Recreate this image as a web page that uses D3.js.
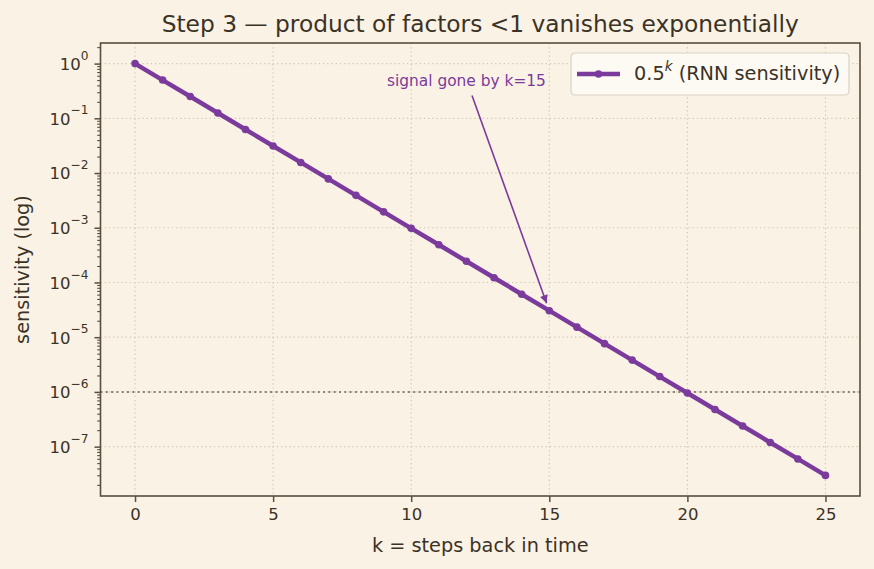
<!DOCTYPE html>
<html>
<head>
<meta charset="utf-8">
<script src="https://cdn.jsdelivr.net/npm/d3@7"></script>
<style>
  body { margin: 0; background: #faf2e4; }
  text { font-family: "DejaVu Sans", sans-serif; }
</style>
</head>
<body>
<div id="chart"></div>
<script>
// data
var steps = d3.range(0, 26);                 // k = 0..25
var sensitivity = steps.map(function (k) { return Math.pow(0.5, k); });
var xTicks = [0, 5, 10, 15, 20, 25];
var yDecades = [0, -1, -2, -3, -4, -5, -6, -7];
var threshold = 1e-6;
var note = { text: "signal gone by k=15", xText: 12, yText: 0.5, k: 15 };

var width = 874, height = 569;
var margin = { top: 43, right: 14, bottom: 73, left: 100.5 };
var purple = "#7b3b9c",
  ink = "#3b3226",
  spine = "#5a4e3e",
  gridColor = "#cfc5b2";

var svg = d3.select("#chart").append("svg")
  .attr("width", width)
  .attr("height", height);

svg.append("rect").attr("width", width).attr("height", height).attr("fill", "#faf2e4");

var x = d3.scaleLinear()
  .domain([-1.25, 26.25])
  .range([margin.left, width - margin.right]);

var lo = Math.log10(d3.min(sensitivity)), hi = Math.log10(d3.max(sensitivity));
var pad = (hi - lo) * 0.05;
var y = d3.scaleLog()
  .domain([Math.pow(10, lo - pad), Math.pow(10, hi + pad)])
  .range([height - margin.bottom, margin.top]);

var g = svg.append("g");

// grid
g.selectAll("line.xgrid").data(xTicks).enter().append("line")
  .attr("x1", d => x(d)).attr("x2", d => x(d))
  .attr("y1", margin.top).attr("y2", height - margin.bottom)
  .attr("stroke", gridColor).attr("stroke-width", 1.2).attr("stroke-dasharray", "1.2,3");

g.selectAll("line.ygrid").data(yDecades).enter().append("line")
  .attr("x1", margin.left).attr("x2", width - margin.right)
  .attr("y1", d => y(Math.pow(10, d))).attr("y2", d => y(Math.pow(10, d)))
  .attr("stroke", gridColor).attr("stroke-width", 1.2).attr("stroke-dasharray", "1.2,3");

// threshold line
g.append("line")
  .attr("x1", margin.left).attr("x2", width - margin.right)
  .attr("y1", y(threshold)).attr("y2", y(threshold))
  .attr("stroke", "#8c8272").attr("stroke-width", 2).attr("stroke-dasharray", "2,3.3");

// series
var line = d3.line().x((d, i) => x(steps[i])).y(d => y(d));
g.append("path").datum(sensitivity)
  .attr("d", line)
  .attr("fill", "none")
  .attr("stroke", purple)
  .attr("stroke-width", 4.5)
  .attr("stroke-linejoin", "round");

g.selectAll("circle.pt").data(sensitivity).enter().append("circle")
  .attr("cx", (d, i) => x(steps[i]))
  .attr("cy", d => y(d))
  .attr("r", 3.8)
  .attr("fill", purple);

// annotation
var tx = x(note.xText), ty = y(note.yText);
svg.append("text")
  .attr("x", tx).attr("y", ty + 5.5)
  .attr("text-anchor", "middle")
  .style("font-size", "15.4px")
  .attr("fill", purple)
  .text(note.text);

var px = x(note.k), py = y(Math.pow(0.5, note.k));
var dx = px - tx, dy = py - ty, len = Math.sqrt(dx * dx + dy * dy);
var sy = ty + 15.5, sx = tx + dx * (15.5 / dy);
var ex = px - dx / len * 8, ey = py - dy / len * 8;
svg.append("defs").append("marker")
  .attr("id", "head")
  .attr("viewBox", "0 0 10 10")
  .attr("refX", 10).attr("refY", 5)
  .attr("markerWidth", 10).attr("markerHeight", 8)
  .attr("markerUnits", "userSpaceOnUse")
  .attr("orient", "auto")
  .append("path").attr("d", "M0,0 L10,5 L0,10 z").attr("fill", purple);
svg.append("line")
  .attr("x1", sx).attr("y1", sy).attr("x2", ex).attr("y2", ey)
  .attr("stroke", purple).attr("stroke-width", 1.6)
  .attr("marker-end", "url(#head)");

// axes
var xAxis = svg.append("g")
  .attr("transform", "translate(0," + (height - margin.bottom) + ")")
  .call(d3.axisBottom(x).tickValues(xTicks).tickSize(6).tickPadding(6));
xAxis.select(".domain").remove();
xAxis.selectAll("line").attr("stroke", spine).attr("stroke-width", 1.5);
xAxis.selectAll("text").style("font-size", "16.5px").attr("fill", ink).style("font-family", "DejaVu Sans");

var minor = [];
yDecades.concat([-8]).forEach(function (e) {
  d3.range(2, 10).forEach(function (m) {
    var v = m * Math.pow(10, e);
    if (v >= y.domain()[0] && v <= y.domain()[1]) minor.push(v);
  });
});
var yMinor = svg.append("g")
  .attr("transform", "translate(" + margin.left + ",0)")
  .call(d3.axisLeft(y).tickValues(minor).tickSize(3.3).tickFormat(""));
yMinor.select(".domain").remove();
yMinor.selectAll("line").attr("stroke", spine).attr("stroke-width", 1.1);

var yAxis = svg.append("g")
  .attr("transform", "translate(" + margin.left + ",0)")
  .call(d3.axisLeft(y).tickValues(yDecades.map(e => Math.pow(10, e))).tickSize(6).tickFormat(""));
yAxis.select(".domain").remove();
yAxis.selectAll("line").attr("stroke", spine).attr("stroke-width", 1.5);
yAxis.selectAll(".tick").each(function (d) {
  var e = Math.round(Math.log10(d));
  var t = d3.select(this).append("text")
    .attr("x", -12).attr("dy", "0.36em")
    .attr("text-anchor", "end")
    .attr("fill", ink).style("font-size", "16.5px");
  t.append("tspan").text("10");
  t.append("tspan").style("font-size", "12.2px").attr("dy", "-0.85em")
    .text(e === 0 ? "0" : "\u2212" + Math.abs(e));
});

// spines
svg.append("rect")
  .attr("x", margin.left).attr("y", margin.top)
  .attr("width", width - margin.right - margin.left)
  .attr("height", height - margin.bottom - margin.top)
  .attr("fill", "none").attr("stroke", spine).attr("stroke-width", 1.6);

// labels
svg.append("text")
  .attr("x", (margin.left + width - margin.right) / 2).attr("y", 32)
  .attr("text-anchor", "middle").style("font-size", "23.3px").attr("fill", ink)
  .text("Step 3 \u2014 product of factors <1 vanishes exponentially");

svg.append("text")
  .attr("x", (margin.left + width - margin.right) / 2).attr("y", 552)
  .attr("text-anchor", "middle").style("font-size", "19.3px").attr("fill", ink)
  .text("k = steps back in time");

svg.append("text")
  .attr("transform", "translate(29," + ((margin.top + height - margin.bottom) / 2) + ") rotate(-90)")
  .attr("text-anchor", "middle").style("font-size", "19.3px").attr("fill", ink)
  .text("sensitivity (log)");

// legend
var lg = svg.append("g").attr("transform", "translate(571,53)");
lg.append("rect").attr("width", 278).attr("height", 42).attr("rx", 4)
  .attr("fill", "#fdfaf4").attr("stroke", "#d8d2c6").attr("stroke-width", 1.2);
lg.append("line").attr("x1", 6).attr("x2", 49).attr("y1", 21).attr("y2", 21)
  .attr("stroke", purple).attr("stroke-width", 4.5);
lg.append("circle").attr("cx", 27.5).attr("cy", 21).attr("r", 3.8).attr("fill", purple);
var lt = lg.append("text").attr("x", 63).attr("y", 26.5).style("font-size", "19.3px").attr("fill", ink);
lt.append("tspan").text("0.5");
lt.append("tspan").style("font-size", "13.5px").attr("dy", "-0.65em").attr("font-style", "italic").text("k");
lt.append("tspan").attr("dy", "0.46em").text(" (RNN sensitivity)");
</script>
</body>
</html>
